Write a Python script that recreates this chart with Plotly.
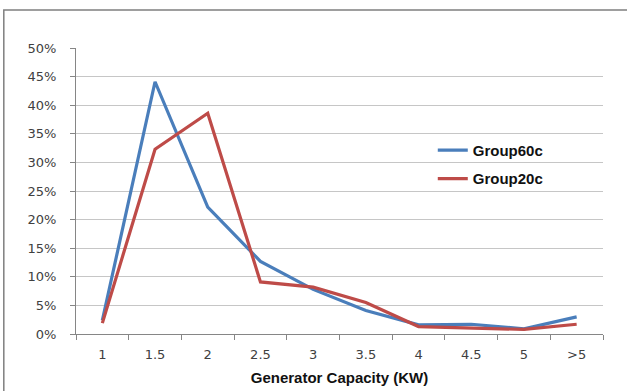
import plotly.graph_objects as go

# Generator capacity buckets (kW) and share of households per group
capacity = ["1", "1.5", "2", "2.5", "3", "3.5", "4", "4.5", "5", ">5"]
group60c = [0.024, 0.441, 0.222, 0.127, 0.078, 0.041, 0.016, 0.017, 0.009, 0.030]
group20c = [0.019, 0.323, 0.386, 0.091, 0.082, 0.055, 0.013, 0.010, 0.008, 0.017]
y_ticks = [0, 0.05, 0.10, 0.15, 0.20, 0.25, 0.30, 0.35, 0.40, 0.45, 0.50]

BLUE = "#4a7ebb"
RED = "#be4b48"
FONT = "Liberation Sans, Arial, sans-serif"
TICK_FONT = "DejaVu Sans, Verdana, sans-serif"

fig = go.Figure()
fig.add_trace(go.Scatter(x=capacity, y=group60c, name="Group60c", mode="lines",
                         line=dict(color=BLUE, width=3.2), legendgroup="a"))
fig.add_trace(go.Scatter(x=capacity, y=group20c, name="Group20c", mode="lines",
                         line=dict(color=RED, width=3.2), legendgroup="b"))

fig.update_layout(
    width=627, height=391,
    margin=dict(l=76, r=24, t=48, b=57),
    paper_bgcolor="white", plot_bgcolor="white",
    font=dict(family=FONT, color="#333333", size=13),
    showlegend=True,
    legend=dict(x=0.677, y=0.70, xanchor="left", yanchor="top",
                bgcolor="rgba(0,0,0,0)", tracegroupgap=6,
                font=dict(size=15, color="#111111", family=FONT, weight="bold")),
    xaxis=dict(
        type="category", tickson="boundaries", range=[-0.5, 9.5],
        automargin=False,
        ticks="outside", ticklen=5, tickcolor="#868686",
        showline=True, linecolor="#868686", linewidth=1,
        showgrid=False, ticklabelstandoff=8,
        tickfont=dict(size=13, color="#404040", family=TICK_FONT),
        title=dict(text="Generator Capacity (KW)", standoff=11,
                   font=dict(size=15, color="#111111", family=FONT, weight="bold")),
    ),
    yaxis=dict(
        range=[0, 0.5], tickvals=y_ticks, tickformat=".0%",
        automargin=False,
        ticks="outside", ticklen=5, tickcolor="#868686",
        showline=True, linecolor="#868686", linewidth=1,
        showgrid=True, gridcolor="#c6c6c6", gridwidth=1,
        zeroline=False, ticklabelstandoff=11,
        tickfont=dict(size=13, color="#404040", family=TICK_FONT),
    ),
    shapes=[dict(type="rect", xref="paper", yref="paper",
                 x0=-0.137, x1=1.2, y0=-0.3, y1=1.133,
                 line=dict(color="#7f7f7f", width=1.5))],
)

fig.write_html("out.html")
